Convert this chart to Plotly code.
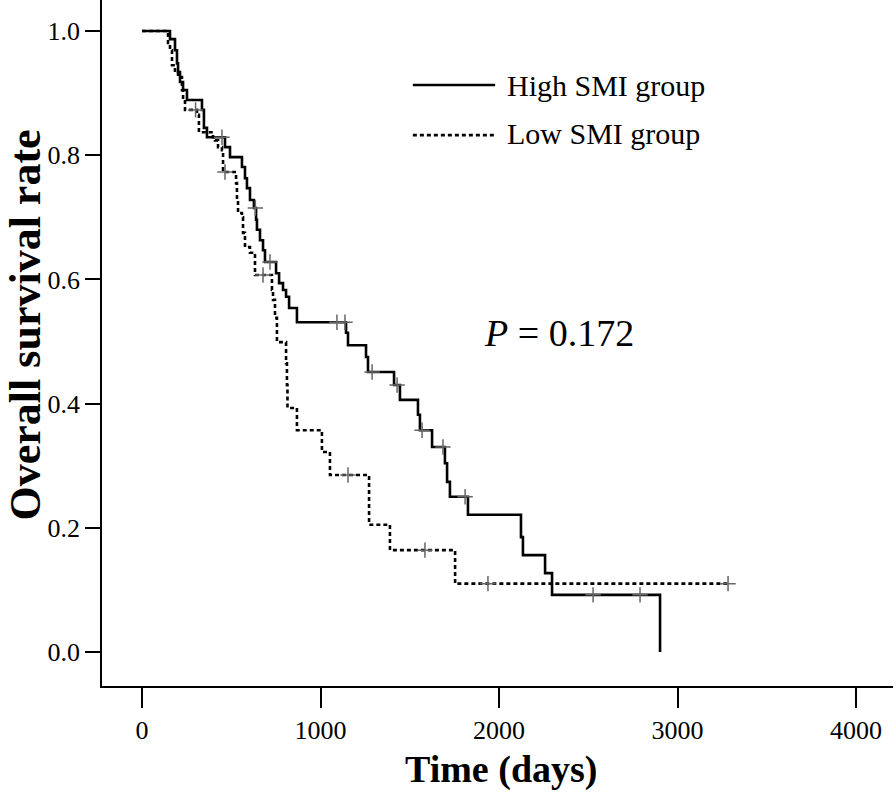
import plotly.graph_objects as go

# ---- data ----
high_times = [0, 157, 185, 196, 202, 213, 230, 252, 336, 347, 364, 465, 493, 560, 577, 588, 605,
              627, 639, 644, 661, 678, 689, 751, 768, 790, 807, 824, 868, 1143, 1154, 1255, 1266,
              1412, 1445, 1546, 1557, 1625, 1697, 1709, 1725, 1826, 2123, 2134, 2258, 2297, 2902]
high_surv = [1.0, 0.987, 0.969, 0.948, 0.934, 0.918, 0.905, 0.889, 0.873, 0.844, 0.829, 0.813, 0.797,
             0.781, 0.763, 0.747, 0.728, 0.715, 0.696, 0.680, 0.663, 0.647, 0.628, 0.610, 0.594, 0.583,
             0.572, 0.554, 0.531, 0.514, 0.494, 0.475, 0.451, 0.430, 0.406, 0.382, 0.357, 0.330, 0.304,
             0.274, 0.250, 0.221, 0.185, 0.156, 0.127, 0.092, 0.0]
high_cens_t = [448, 635, 717, 1092, 1137, 1289, 1429, 1569, 1686, 1810, 2527, 2790]
high_cens_s = [0.829, 0.715, 0.628, 0.531, 0.531, 0.451, 0.430, 0.357, 0.330, 0.250, 0.092, 0.092]

low_times = [0, 146, 157, 168, 185, 202, 224, 230, 241, 308, 319, 398, 409, 426, 448, 454, 527, 532,
             538, 560, 566, 577, 605, 633, 728, 734, 745, 756, 807, 812, 815, 868, 1008, 1053, 1272,
             1389, 1754, 3283]
low_surv = [1.0, 0.981, 0.969, 0.945, 0.934, 0.926, 0.905, 0.889, 0.873, 0.865, 0.837, 0.829, 0.824,
            0.813, 0.808, 0.773, 0.755, 0.728, 0.707, 0.700, 0.675, 0.652, 0.643, 0.607, 0.583, 0.567,
            0.538, 0.499, 0.465, 0.430, 0.393, 0.357, 0.322, 0.285, 0.205, 0.164, 0.110, 0.110]
low_cens_t = [300, 465, 678, 1154, 1585, 1938, 3283]
low_cens_s = [0.873, 0.773, 0.607, 0.285, 0.164, 0.110, 0.110]

x_ticks = [0, 1000, 2000, 3000, 4000]
y_ticks = [0.0, 0.2, 0.4, 0.6, 0.8, 1.0]
group_names = ["High SMI group", "Low SMI group"]
p_text = "<i>P</i> = 0.172"

FONT = "Liberation Serif, Times New Roman, serif"

fig = go.Figure()
fig.add_trace(go.Scatter(x=high_times, y=high_surv, mode="lines", line_shape="hv",
                         line=dict(color="black", width=2.6), name=group_names[0], showlegend=False))
fig.add_trace(go.Scatter(x=low_times, y=low_surv, mode="lines", line_shape="hv",
                         line=dict(color="black", width=2.6, dash="4px,3px"), name=group_names[1],
                         showlegend=False))
fig.add_trace(go.Scatter(x=high_cens_t, y=high_cens_s, mode="markers", showlegend=False,
                         marker=dict(symbol="cross-thin", size=11, color="#666",
                                     line=dict(width=1.5, color="#666"))))
fig.add_trace(go.Scatter(x=low_cens_t, y=low_cens_s, mode="markers", showlegend=False,
                         marker=dict(symbol="cross-thin", size=11, color="#666",
                                     line=dict(width=1.5, color="#666"))))

# legend drawn manually (long line samples)
fig.add_shape(type="line", xref="paper", yref="paper", x0=0.393, x1=0.497, y0=0.876, y1=0.876,
              line=dict(color="black", width=2.6))
fig.add_shape(type="line", xref="paper", yref="paper", x0=0.393, x1=0.497, y0=0.803, y1=0.803,
              line=dict(color="black", width=2.6, dash="4px,3px"))
fig.add_annotation(xref="paper", yref="paper", x=0.509, y=0.876, text=group_names[0], showarrow=False,
                   xanchor="left", yanchor="middle", font=dict(family=FONT, size=30, color="black"))
fig.add_annotation(xref="paper", yref="paper", x=0.509, y=0.806, text=group_names[1], showarrow=False,
                   xanchor="left", yanchor="middle", font=dict(family=FONT, size=30, color="black"))
fig.add_annotation(xref="paper", yref="paper", x=0.480, y=0.515, text=p_text, showarrow=False,
                   xanchor="left", yanchor="middle", font=dict(family=FONT, size=38, color="black"))

# axis titles
fig.add_annotation(xref="paper", yref="paper", x=-0.097, y=0.526, text="<b>Overall survival rate</b>",
                   textangle=-90, showarrow=False, xanchor="center", yanchor="middle",
                   font=dict(family=FONT, size=44, color="black"))
fig.add_annotation(xref="paper", yref="paper", x=0.504, y=-0.122, text="<b>Time (days)</b>",
                   showarrow=False, xanchor="center", yanchor="middle",
                   font=dict(family=FONT, size=38, color="black"))

fig.update_layout(
    width=896, height=804,
    margin=dict(l=102, r=3, t=0, b=118),
    paper_bgcolor="white", plot_bgcolor="white",
    font=dict(family=FONT, size=26, color="black"),
    xaxis=dict(range=[-224, 4207], tickvals=x_ticks, ticktext=[str(v) for v in x_ticks],
               showgrid=False, zeroline=False, showline=True, linecolor="black", linewidth=1.5,
               ticks="outside", ticklen=20, tickwidth=1.5, tickcolor="black",
               tickfont=dict(family=FONT, size=26)),
    yaxis=dict(range=[-0.0548, 1.05], tickvals=y_ticks, ticktext=[f"{v:.1f}" for v in y_ticks],
               showgrid=False, zeroline=False, showline=True, linecolor="black", linewidth=1.5,
               ticks="outside", ticklen=15, tickwidth=1.5, tickcolor="black",
               tickfont=dict(family=FONT, size=26)),
)

fig.write_html("out.html", config={"displayModeBar": False},
               post_script="document.body.style.margin='0px';document.body.style.overflow='hidden';")
